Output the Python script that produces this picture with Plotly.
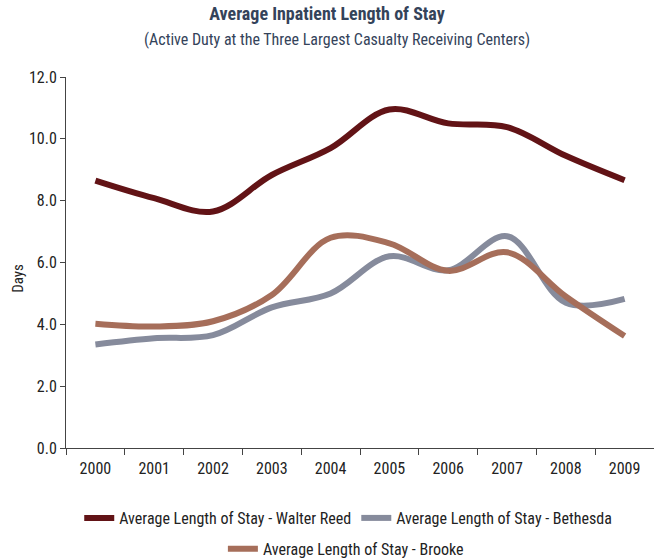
import plotly.graph_objects as go

# Daten
years = ["2000", "2001", "2002", "2003", "2004", "2005", "2006", "2007", "2008", "2009"]
walter_reed = [8.65, 8.08, 7.65, 8.83, 9.7, 10.95, 10.5, 10.38, 9.45, 8.66]
bethesda = [3.35, 3.55, 3.65, 4.55, 5.0, 6.2, 5.75, 6.85, 4.7, 4.82]
brooke = [4.02, 3.93, 4.1, 4.95, 6.8, 6.62, 5.73, 6.33, 4.9, 3.62]

FONT = "Roboto Condensed, Liberation Sans Narrow, Arial Narrow, sans-serif"
TITLE_COLOR = "#34435a"

fig = go.Figure()

fig.add_trace(go.Scatter(
    x=years, y=walter_reed,
    mode="lines",
    name="Average Length of Stay - Walter Reed",
    line=dict(color="#621316", width=6, shape="spline", smoothing=1.0),
    legend="legend",
))
fig.add_trace(go.Scatter(
    x=years, y=bethesda,
    mode="lines",
    name="Average Length of Stay - Bethesda",
    line=dict(color="#868b9c", width=6, shape="spline", smoothing=1.0),
    legend="legend",
))
fig.add_trace(go.Scatter(
    x=years, y=brooke,
    mode="lines",
    name="Average Length of Stay - Brooke",
    line=dict(color="#a66e5a", width=6, shape="spline", smoothing=1.0),
    legend="legend2",
))

fig.update_layout(
    width=654,
    height=560,
    paper_bgcolor="white",
    plot_bgcolor="white",
    margin=dict(l=66, r=0, t=77, b=112),
    font=dict(family=FONT, size=16, color="#222222"),
    title=dict(
        text="<b>Average Inpatient Length of Stay</b>",
        x=0.5, xanchor="center",
        yref="container", y=0.975, yanchor="middle",
        font=dict(family=FONT, size=18, color=TITLE_COLOR),
    ),
    legend=dict(
        orientation="h",
        x=0.48, xanchor="center",
        yref="container", y=0.075, yanchor="middle",
        font=dict(family=FONT, size=16, color="#222222"),
        itemwidth=30,
        traceorder="normal",
    ),
    legend2=dict(
        orientation="h",
        x=0.476, xanchor="center",
        yref="container", y=0.02, yanchor="middle",
        font=dict(family=FONT, size=16, color="#222222"),
        itemwidth=30,
    ),
    annotations=[
        dict(
            text="(Active Duty at the Three Largest Casualty Receiving Centers)",
            xref="paper", yref="paper",
            x=0.461, y=1.10, xanchor="center", yanchor="middle",
            showarrow=False,
            font=dict(family=FONT, size=16, color=TITLE_COLOR),
        ),
        dict(
            text="Days",
            xref="paper", yref="paper",
            x=-0.082, y=0.458, xanchor="center", yanchor="middle",
            textangle=-90,
            showarrow=False,
            font=dict(family=FONT, size=15, color="#222222"),
        ),
    ],
)

fig.update_xaxes(
    type="category",
    tickson="boundaries",
    ticks="outside",
    ticklen=6,
    tickcolor="#444444",
    ticklabelstandoff=6,
    showline=True,
    linecolor="#444444",
    linewidth=1,
    showgrid=False,
    zeroline=False,
    range=[-0.5, 9.5],
    automargin=False,
)

fig.update_yaxes(
    range=[0, 12],
    tickvals=[0, 2, 4, 6, 8, 10, 12],
    tickformat=".1f",
    ticks="outside",
    ticklen=5,
    tickcolor="#444444",
    showline=True,
    linecolor="#444444",
    linewidth=1,
    showgrid=False,
    zeroline=False,
    automargin=False,
)

# remove the default 8px body margin so the figure fills the window
fig.write_html(
    "out.html",
    config={"displayModeBar": False},
    post_script="document.body.style.margin = '0';",
)
